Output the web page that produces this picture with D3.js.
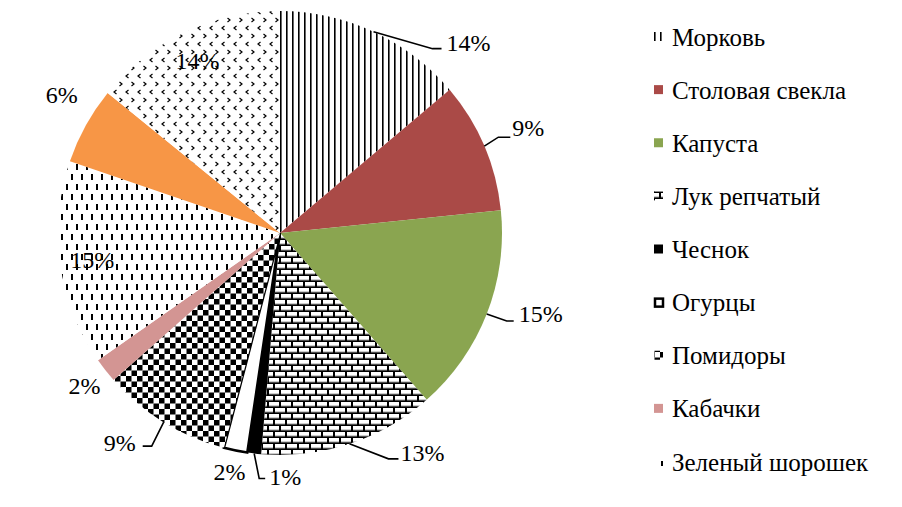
<!DOCTYPE html>
<html><head><meta charset="utf-8">
<script src="https://cdn.jsdelivr.net/npm/d3@7"></script>
<style>body{margin:0;background:#fff}svg{display:block}text{font-family:"Liberation Serif","Times New Roman",serif}</style>
</head><body>
<script>
// ---- data ----
const categories = ["Морковь","Столовая свекла","Капуста","Лук репчатый","Чеснок","Огурцы","Помидоры","Кабачки","Зеленый шорошек","",""];
const values = [13.8, 9.5, 15.1, 12.8, 1.0, 1.7, 9.4, 1.8, 14.9, 5.6, 14.1];
const valueLabels = ["14%","9%","15%","13%","1%","2%","9%","2%","15%","6%","14%"];
const legendItems = ["Морковь","Столовая свекла","Капуста","Лук репчатый","Чеснок","Огурцы","Помидоры","Кабачки","Зеленый шорошек"];

// ---- layout / style ----
const fills = ["url(#pVert)","#AA4A47","#8AA550","url(#pBrick)","#000","#fff","url(#pCheck)","#D39593","url(#pDash)","#F79646","url(#pChev)"];
const strokes = [null,null,null,null,null,"#000",null,null,null,null,null];
const labelOff = [[95,11],[44,-18],[54,0],[73,9],[31,24],[-6,21],[-44,21],[-21,16],[32,-4],[-24,-30],[13,28]];
const leaderPts = [[[59,17],[68,17]],[[14,-9],[26,-9]],[[20,7],[27,7]],[[39,15],[49,15]],[[5,25],[11,25]],null,[[-12,24],[-21,24]],null,null,null,null];

const W=902,H=507,cx=280,cy=233,R=222;
const svg=d3.select("body").append("svg").attr("width",W).attr("height",H);
const defs=svg.append("defs");

// vertical lines
let p=defs.append("pattern").attr("id","pVert").attr("patternUnits","userSpaceOnUse").attr("width",6).attr("height",6);
p.append("rect").attr("width",6).attr("height",6).attr("fill","#fff");
p.append("rect").attr("x",0).attr("width",1.6).attr("height",6).attr("fill","#000");
// bricks
p=defs.append("pattern").attr("id","pBrick").attr("patternUnits","userSpaceOnUse").attr("width",12).attr("height",12);
p.append("rect").attr("width",12).attr("height",12).attr("fill","#000");
[[1,1],[-5,7],[7,7]].forEach(([x,y])=>{
  p.append("rect").attr("x",x).attr("y",y).attr("width",10).attr("height",4).attr("fill","#fff");
  p.append("rect").attr("x",x).attr("y",y+3.5).attr("width",10).attr("height",1).attr("fill","#999");
});
// checker
p=defs.append("pattern").attr("id","pCheck").attr("patternUnits","userSpaceOnUse").attr("width",11).attr("height",11);
p.append("rect").attr("width",11).attr("height",11).attr("fill","#fff");
p.append("rect").attr("width",5.5).attr("height",5.5).attr("fill","#000");
p.append("rect").attr("x",5.5).attr("y",5.5).attr("width",5.5).attr("height",5.5).attr("fill","#000");
// dashes
p=defs.append("pattern").attr("id","pDash").attr("patternUnits","userSpaceOnUse").attr("width",10).attr("height",20);
p.append("rect").attr("width",10).attr("height",20).attr("fill","#fff");
p.append("rect").attr("x",1).attr("y",1).attr("width",2).attr("height",6).attr("fill","#000");
p.append("rect").attr("x",6).attr("y",11).attr("width",2).attr("height",6).attr("fill","#000");
// chevrons
p=defs.append("pattern").attr("id","pChev").attr("patternUnits","userSpaceOnUse").attr("width",12).attr("height",16);
p.append("rect").attr("width",12).attr("height",16).attr("fill","#fff");
p.append("path").attr("d","M4.5,1 L2,3 L4.5,5").attr("fill","none").attr("stroke","#000").attr("stroke-width",1.2);
p.append("path").attr("d","M7.5,9 L10,11 L7.5,13").attr("fill","none").attr("stroke","#000").attr("stroke-width",1.2);

const pie=d3.pie().sort(null).value(d=>d)(values);
const arc=d3.arc().innerRadius(0).outerRadius(R);
const g=svg.append("g").attr("transform",`translate(${cx},${cy})`);
g.selectAll("path.s").data(pie).join("path").attr("class","s")
  .attr("d",arc).attr("fill",(d,i)=>fills[i])
  .attr("stroke",(d,i)=>strokes[i]||"none").attr("stroke-width",(d,i)=>strokes[i]?2.5:0)
  .attr("stroke-linejoin","miter");

pie.forEach((d,i)=>{
  const a=(d.startAngle+d.endAngle)/2;
  const ax=R*Math.sin(a), ay=-R*Math.cos(a);
  if(leaderPts[i]){
    const pts=[[ax,ay]].concat(leaderPts[i].map(([dx,dy])=>[ax+dx,ay+dy]));
    g.append("path").attr("d",d3.line()(pts)).attr("fill","none").attr("stroke","#000").attr("stroke-width",1.6);
  }
  g.append("text").attr("x",ax+labelOff[i][0]).attr("y",ay+labelOff[i][1])
    .attr("text-anchor","middle").attr("dominant-baseline","central")
    .attr("font-size",24).attr("fill","#000").text(valueLabels[i]);
});

// legend
const ly=d3.scalePoint().domain(legendItems).range([37,462]);
const lg=svg.append("g");
legendItems.forEach((name,i)=>{
  const y=ly(name);
  if(i===5){
    lg.append("rect").attr("x",655).attr("y",y-4).attr("width",8).attr("height",8).attr("fill","#fff").attr("stroke","#000").attr("stroke-width",2.5);
  } else {
    lg.append("rect").attr("x",654).attr("y",y-5).attr("width",9).attr("height",9).attr("fill",fills[i]);
  }
  lg.append("text").attr("x",672).attr("y",y).attr("dominant-baseline","central")
    .attr("font-size",25).attr("fill","#000").text(name);
});
</script>
</body></html>
